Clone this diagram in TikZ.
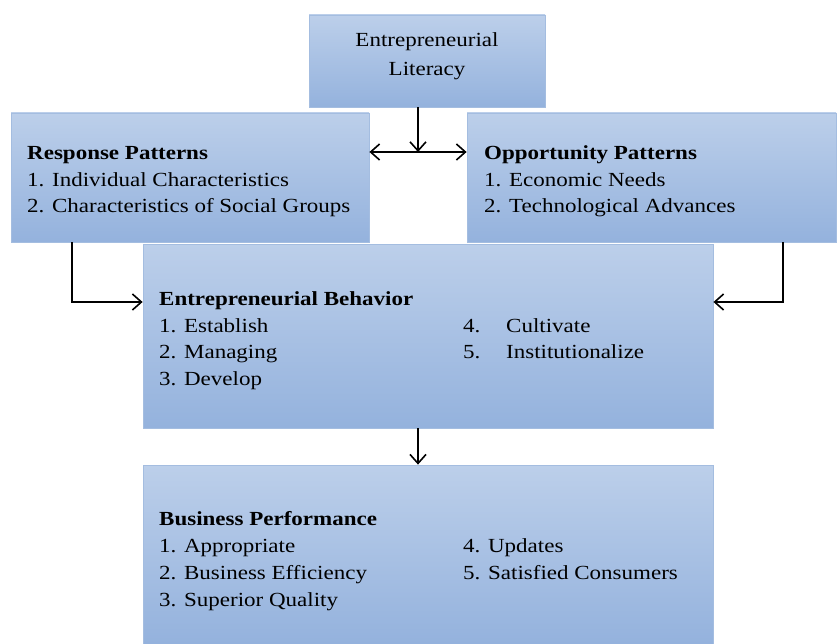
\documentclass[tikz,border=0pt]{standalone}
\usepackage{fontspec}
\setmainfont{Liberation Serif}[FakeStretch=1.15]
\usetikzlibrary{arrows.meta}
\definecolor{boxtop}{HTML}{BCCFEA}
\definecolor{boxbot}{HTML}{94B2DD}
\definecolor{boxline}{HTML}{A4BDE0}
\tikzset{
  box/.style={rectangle, inner sep=0pt, top color=boxtop, bottom color=boxbot, draw=boxline, line width=0.8pt},
  txt/.style={inner sep=0pt, anchor=base west, font=\fontsize{20}{24}\selectfont},
  ctxt/.style={txt, anchor=base},
  btxt/.style={txt, font=\fontsize{20}{24}\selectfont\bfseries},
  tip/.tip={Straight Barb[length=9pt,width=16pt,line width=1.6pt]},
  conn/.style={line width=1.6pt, -tip},
  conn2/.style={line width=1.6pt, tip-tip}
}
\begin{document}
\begin{tikzpicture}[x=1pt,y=-1pt]
\useasboundingbox (0,0) rectangle (837,644);
% boxes
\node[box, minimum width=236pt, minimum height=92pt] (lit) at (427,61) {};
\node[box, minimum width=358pt, minimum height=129pt] (resp) at (190,177.5) {};
\node[box, minimum width=369pt, minimum height=129pt] (opp) at (651.5,177.5) {};
\node[box, minimum width=570pt, minimum height=184pt] (beh) at (428,336) {};
\node[box, minimum width=570pt, minimum height=179pt] (bp) at (428,554.5) {};
% texts
\node[ctxt] (t1) at (427,47) {Entrepreneurial};
\node[ctxt] (t2) at (427,76) {Literacy};
\node[btxt] (r0) at (27,160) {Response Patterns};
\node[txt] (r1) at (27,187) {1. Individual Characteristics};
\node[txt] (r2) at (27,213) {2. Characteristics of Social Groups};
\node[btxt] (o0) at (484,160) {Opportunity Patterns};
\node[txt] (o1) at (484,187) {1. Economic Needs};
\node[txt] (o2) at (484,213) {2. Technological Advances};
\node[btxt] (b0) at (159,305) {Entrepreneurial Behavior};
\node[txt] (b1) at (159,332) {1. Establish};
\node[txt] (b2) at (159,358) {2. Managing};
\node[txt] (b3) at (159,385) {3. Develop};
\node[txt] (b4n) at (463,332) {4.};
\node[txt] (b4) at (506,332) {Cultivate};
\node[txt] (b5n) at (463,358) {5.};
\node[txt] (b5) at (506,358) {Institutionalize};
\node[btxt] (p0) at (159,525) {Business Performance};
\node[txt] (p1) at (159,552) {1. Appropriate};
\node[txt] (p2) at (159,579) {2. Business Efficiency};
\node[txt] (p3) at (159,606) {3. Superior Quality};
\node[txt] (p4) at (463,552) {4. Updates};
\node[txt] (p5) at (463,579) {5. Satisfied Consumers};
% connectors
\coordinate (mid) at (418,152);
\coordinate (lc) at (72,302);
\coordinate (rc) at (783,302);
\draw[conn] (mid |- lit.south) -- (mid);
\draw[conn2] (resp.east |- mid) -- (opp.west |- mid);
\draw[conn] (lc |- resp.south) -- (lc) -- (beh.west |- lc);
\draw[conn] (rc |- opp.south) -- (rc) -- (beh.east |- rc);
\draw[conn] (mid |- beh.south) -- (mid |- bp.north);
\end{tikzpicture}
\end{document}
